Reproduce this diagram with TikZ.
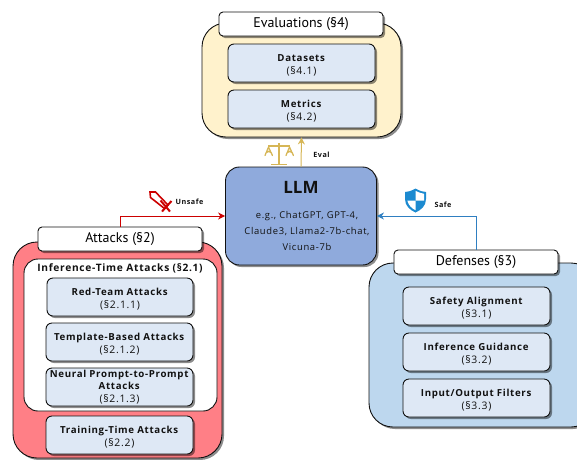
\documentclass[tikz,border=0pt]{standalone}
\usepackage{fontspec}
\setmainfont[LetterSpace=7]{Open Sans}
\newfontfamily\titlefont{PT Sans}
\newfontfamily\plainfont{Open Sans}
\usetikzlibrary{shadows,arrows.meta}
\definecolor{evalfill}{HTML}{FFF2CC}
\definecolor{subfill}{HTML}{DEE8F5}
\definecolor{llmfill}{HTML}{8FAADC}
\definecolor{atkfill}{HTML}{FF7F86}
\definecolor{deffill}{HTML}{BDD7EE}
\definecolor{gold}{HTML}{D6B656}
\definecolor{redline}{HTML}{CC0000}
\definecolor{blueline}{HTML}{2F7FC1}
\definecolor{shieldblue}{HTML}{1C8AD0}
\definecolor{ink}{HTML}{111111}
\tikzset{
  x=1pt,y=-1pt,
  shade/.style={drop shadow={shadow xshift=2pt,shadow yshift=-2pt,fill=black,opacity=.45}},
  outerbox/.style={draw=ink,line width=.9pt,rounded corners=24pt,inner sep=0pt,shade},
  titlebox/.style={draw=ink,fill=white,line width=.9pt,rounded corners=4pt,minimum width=164pt,minimum height=24pt,inner sep=0pt,shade,font=\titlefont\fontsize{14}{16}\selectfont},
  subbox/.style={draw=ink,fill=subfill,line width=.9pt,rounded corners=6pt,minimum width=147pt,minimum height=38pt,inner sep=0pt,align=center,shade,text=ink,font=\fontsize{9.7}{13}\selectfont},
  flabel/.style={font=\bfseries\fontsize{7.2}{8}\selectfont,inner sep=0pt,text=ink},
  link/.style={line width=1pt,-{Stealth[length=7pt,width=7pt]}},
}
\newcommand{\tn}[1]{\rule{0pt}{12pt}\textbf{#1}}
\newcommand{\sect}[1]{{\fontsize{10.4}{13}\selectfont #1}}
\begin{document}
\begin{tikzpicture}
\path[use as bounding box,clip] (0,0) rectangle (577,459);
% evaluations
\node[outerbox,fill=evalfill,minimum width=199pt,minimum height=114pt] (evalouter) at (301.5,80) {};
\node[titlebox] (evaltitle) at (301,24) {Evaluations (§4)};
\node[subbox] (datasets) at (301.5,63) {\tn{Datasets}\\\sect{(§4.1)}};
\node[subbox] (metrics) at (301.5,109) {\tn{Metrics}\\\sect{(§4.2)}};
% attacks
\node[outerbox,fill=atkfill,minimum width=209pt,minimum height=216pt] (atkouter) at (117.5,350) {};
\node[titlebox] (attacks) at (120,239) {Attacks (§2)};
\node[draw=ink,fill=white,line width=.9pt,rounded corners=14pt,minimum width=193pt,minimum height=152pt,inner sep=0pt] (inference) at (120.5,335) {};
\node[font=\bfseries\fontsize{10.2}{11}\selectfont,inner sep=0pt,text=ink] (inflabel) at (120,268.5) {Inference-Time Attacks (§2.1)};
\node[subbox,minimum width=146pt] (redteam) at (120,297) {\tn{Red-Team Attacks}\\\sect{(§2.1.1)}};
\node[subbox] (template) at (119.5,342) {\tn{Template-Based Attacks}\\\sect{(§2.1.2)}};
\node[subbox,font=\fontsize{9.7}{12.4}\selectfont] (neural) at (119.5,387) {\textbf{Neural Prompt-to-Prompt}\\\textbf{Attacks}\\\sect{(§2.1.3)}};
\node[subbox] (training) at (119.5,435) {\tn{Training-Time Attacks}\\\sect{(§2.2)}};
% defenses
\node[outerbox,fill=deffill,minimum width=226pt,minimum height=164pt] (defouter) at (482,345) {};
\node[titlebox] (defenses) at (476,262) {Defenses (§3)};
\node[subbox] (safety) at (476.5,306) {\tn{Safety Alignment}\\\sect{(§3.1)}};
\node[subbox] (guidance) at (476.5,352) {\tn{Inference Guidance}\\\sect{(§3.2)}};
\node[subbox] (filters) at (476.5,398) {\tn{Input/Output Filters}\\\sect{(§3.3)}};
% llm
\node[draw=ink,fill=llmfill,line width=.9pt,rounded corners=14pt,minimum width=151pt,minimum height=98pt,inner sep=0pt,shade] (llm) at (301,216) {};
\node[font=\plainfont\bfseries\fontsize{17}{19}\selectfont,inner sep=0pt,text=ink] (llmtitle) at (301,187) {LLM};
\node[align=center,font=\fontsize{9.4}{15.6}\selectfont,inner sep=0pt,text=ink] (llmtext) at (307,231) {e.g., ChatGPT, GPT-4,\\Claude3, Llama2-7b-chat,\\Vicuna-7b};
% connectors
\draw[link,gold] (llm.north) -- (evalouter.south);
\draw[link,redline] (attacks.north) |- (llm.west);
\draw[link,blueline] (defenses.north) |- (llm.east);
% labels
\node[flabel] (evallabel) at (321.5,155) {Eval};
\node[flabel] (unsafelabel) at (189.5,202) {Unsafe};
\node[flabel] (safelabel) at (443,205) {Safe};
% scales
\draw[gold,line width=1.3pt] (279,143) -- (279,164) (271,164.5) -- (287,164.5) (268,146) -- (290,146);
\draw[gold,line width=1.2pt,fill=gold!25,line join=round] (268.5,147) -- (265,155.5) arc[start angle=180,end angle=360,x radius=3.7pt,y radius=-4pt] -- cycle;
\draw[gold,line width=1.2pt,fill=gold!25,line join=round] (289.5,147) -- (286,155.5) arc[start angle=180,end angle=360,x radius=3.7pt,y radius=-4pt] -- cycle;
% sword
\draw[redline,line width=1.6pt,line join=miter] (150,192) -- (155.5,192) -- (168,205) -- (164.5,208.5) -- (150.5,197.5) -- cycle;
\draw[redline,line width=2pt] (160.5,200.5) -- (170,211.5) (171.5,201) -- (162,211.5);
% shield
\fill[shieldblue] (415.5,188.5) .. controls (411,191) and (408,192) .. (405,192) -- (405,199) .. controls (405,206) and (410,210) .. (415.5,212.5) .. controls (421,210) and (426,206) .. (426,199) -- (426,192) .. controls (423,192) and (420,191) .. (415.5,188.5) -- cycle;
\fill[white] (415.5,190.8) .. controls (419,192.5) and (421.5,193.5) .. (424,193.8) -- (424,200.5) -- (415.5,200.5) -- cycle;
\fill[white] (415.5,200.5) -- (407.3,200.5) .. controls (408.5,205.5) and (412,208.5) .. (415.5,210.2) -- cycle;
\end{tikzpicture}
\end{document}
